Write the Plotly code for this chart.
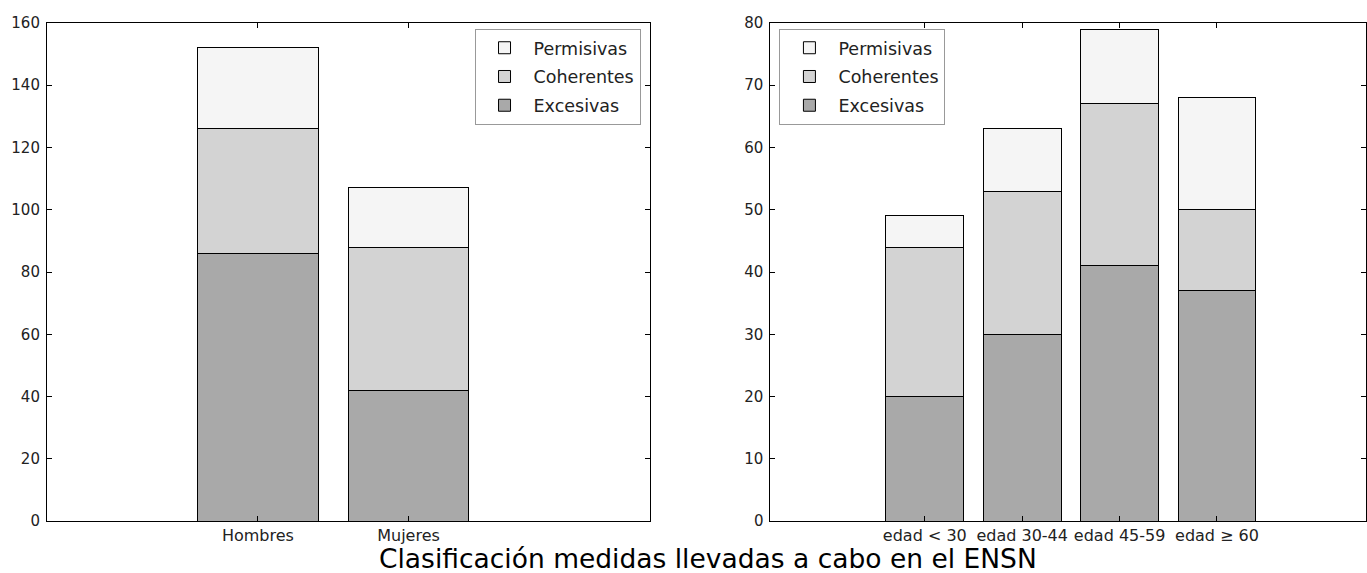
import plotly.graph_objects as go

# Left chart: sex
sex_categories = ["Hombres", "Mujeres"]
sex_excesivas = [86, 42]
sex_coherentes = [40, 46]
sex_permisivas = [26, 19]

# Right chart: age groups
age_categories = ["edad < 30", "edad 30-44", "edad 45-59", "edad ≥ 60"]
age_excesivas = [20, 30, 41, 37]
age_coherentes = [24, 23, 26, 13]
age_permisivas = [5, 10, 12, 18]

series_names = ["Excesivas", "Coherentes", "Permisivas"]
colors = ["#a9a9a9", "#d3d3d3", "#f5f5f5"]
legend_ranks = [3, 2, 1]

title_text = "Clasificación medidas llevadas a cabo en el ENSN"

FONT = "DejaVu Sans"

fig = go.Figure()

sex_series = [sex_excesivas, sex_coherentes, sex_permisivas]
age_series = [age_excesivas, age_coherentes, age_permisivas]

sex_x = list(range(len(sex_categories)))
age_x = list(range(len(age_categories)))

for name, vals, col, rank in zip(series_names, sex_series, colors, legend_ranks):
    fig.add_trace(go.Bar(
        x=sex_x, y=vals, name=name, width=0.8,
        marker=dict(color=col, line=dict(color="black", width=1)),
        xaxis="x", yaxis="y", legend="legend", legendgroup="L" + name,
        legendrank=rank,
    ))

for name, vals, col, rank in zip(series_names, age_series, colors, legend_ranks):
    fig.add_trace(go.Bar(
        x=age_x, y=vals, name=name, width=0.8,
        marker=dict(color=col, line=dict(color="black", width=1)),
        xaxis="x2", yaxis="y2", legend="legend2", legendgroup="R" + name,
        legendrank=rank,
    ))

W, H = 1367, 590


def py(page_px):
    return 1 - page_px / H


ytop = py(14.3)
ybot = py(528.3)

axis_common = dict(
    showline=True, linecolor="black", linewidth=1, mirror="allticks",
    ticks="inside", ticklen=5, tickcolor="black", showgrid=False, zeroline=False,
)
xtick_font = dict(family=FONT, size=16, color="#222")
ytick_font = dict(family=FONT, size=15, color="#222")

legend_common = dict(
    y=py(20.5), yanchor="top", traceorder="grouped",
    bordercolor="#999", borderwidth=1, bgcolor="white",
    font=dict(family=FONT, size=17.5, color="#222"),
    tracegroupgap=3, itemwidth=48,
)

fig.update_layout(
    width=W, height=H,
    margin=dict(l=0, r=0, t=0, b=0),
    paper_bgcolor="white", plot_bgcolor="white",
    barmode="stack",
    font=dict(family=FONT, size=16, color="#222"),
    xaxis=dict(domain=[47 / W, 650 / W], range=[-1.4, 2.6], tickfont=xtick_font,
               tickvals=sex_x, ticktext=sex_categories, anchor="y", **axis_common),
    yaxis=dict(domain=[ybot, ytop], range=[0, 160], dtick=20, anchor="x",
               tickfont=ytick_font, ticklabelstandoff=3, **axis_common),
    xaxis2=dict(domain=[771 / W, 1.0], range=[-1.585, 4.53], tickfont=xtick_font,
                tickvals=age_x, ticktext=age_categories, anchor="y2", **axis_common),
    yaxis2=dict(domain=[ybot, ytop], range=[0, 80], dtick=10, anchor="x2",
                tickfont=ytick_font, ticklabelstandoff=3, **axis_common),
    legend=dict(x=641 / W, xanchor="right", **legend_common),
    legend2=dict(x=780 / W, xanchor="left", **legend_common),
    annotations=[dict(text=title_text, x=708.5 / W, y=py(566.8), xref="paper", yref="paper",
                      xanchor="center", yanchor="middle", showarrow=False, borderpad=0,
                      font=dict(family=FONT, size=26.5, color="black"))],
)

post = (
    "document.documentElement.style.margin='0';"
    "document.documentElement.style.overflow='hidden';"
    "document.body.style.margin='0';"
    "document.body.style.overflow='hidden';"
    "var d=document.getElementsByClassName('plotly-graph-div')[0];"
    "d.style.position='fixed';d.style.top='0';d.style.left='0';"
)

fig.write_html("out.html", config={"displayModeBar": False}, post_script=post)
